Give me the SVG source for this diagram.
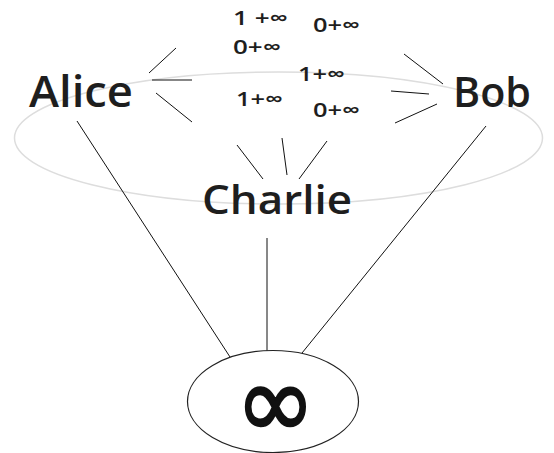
<svg xmlns="http://www.w3.org/2000/svg" width="554" height="453" viewBox="0 0 554 453">
<style>
.bg{fill:#fff}
.ring{fill:none;stroke:#dddddd;stroke-width:1.5}
.edge{stroke:#111;stroke-width:1;fill:none}
.lbl{font-family:"Open Sans","Noto Sans","DejaVu Sans",sans-serif;font-weight:600;fill:#1e1e1e}
.el{font-family:"Open Sans","Noto Sans","DejaVu Sans",sans-serif;font-weight:600;font-size:20px;fill:#1e1e1e}
.inf{fill:#fff;stroke:#222;stroke-width:1.2}
</style>
<rect class="bg" width="554" height="453"/>
<ellipse class="ring" cx="278.5" cy="138" rx="264" ry="66"/>
<g id="connectors">
  <line class="edge" x1="77" y1="121" x2="230" y2="357"/>
  <line class="edge" x1="267" y1="238" x2="267" y2="351"/>
  <line class="edge" x1="486" y1="126" x2="302" y2="353"/>
  <line class="edge" x1="149" y1="73" x2="176" y2="48"/>
  <line class="edge" x1="152" y1="80" x2="192" y2="80"/>
  <line class="edge" x1="156" y1="93" x2="192" y2="122"/>
  <line class="edge" x1="404" y1="54" x2="443" y2="84"/>
  <line class="edge" x1="391" y1="91" x2="429" y2="94"/>
  <line class="edge" x1="395" y1="123" x2="437" y2="104"/>
  <line class="edge" x1="237" y1="145" x2="263" y2="179"/>
  <line class="edge" x1="282" y1="138" x2="287" y2="175"/>
  <line class="edge" x1="327" y1="141" x2="299" y2="179"/>
  <g id="edge-labels">
    <text class="el" x="233" y="25" textLength="55" lengthAdjust="spacingAndGlyphs">1 +∞</text>
    <text class="el" x="313" y="32" textLength="47" lengthAdjust="spacingAndGlyphs">0+∞</text>
    <text class="el" x="233" y="54" textLength="48" lengthAdjust="spacingAndGlyphs">0+∞</text>
    <text class="el" x="298" y="81" textLength="47" lengthAdjust="spacingAndGlyphs">1+∞</text>
    <text class="el" x="236" y="106" textLength="47" lengthAdjust="spacingAndGlyphs">1+∞</text>
    <text class="el" x="313" y="117" textLength="47" lengthAdjust="spacingAndGlyphs">0+∞</text>
  </g>
</g>
<g id="alice"><text class="lbl" x="29" y="107" font-size="43" textLength="104" lengthAdjust="spacingAndGlyphs">Alice</text></g>
<g id="bob"><text class="lbl" x="453" y="107" font-size="42" textLength="78" lengthAdjust="spacingAndGlyphs">Bob</text></g>
<g id="charlie"><text class="lbl" x="202" y="214" font-size="39" textLength="150" lengthAdjust="spacingAndGlyphs">Charlie</text></g>
<g id="infinity">
  <ellipse class="inf" cx="273" cy="401.5" rx="85.5" ry="51"/>
  <text transform="translate(275.5,405.5) scale(1.2,1.3)" x="0" y="25" text-anchor="middle" font-family="DejaVu Sans,sans-serif" font-size="80" fill="#111" stroke="#111" stroke-width="1.6">∞</text>
</g>
</svg>
